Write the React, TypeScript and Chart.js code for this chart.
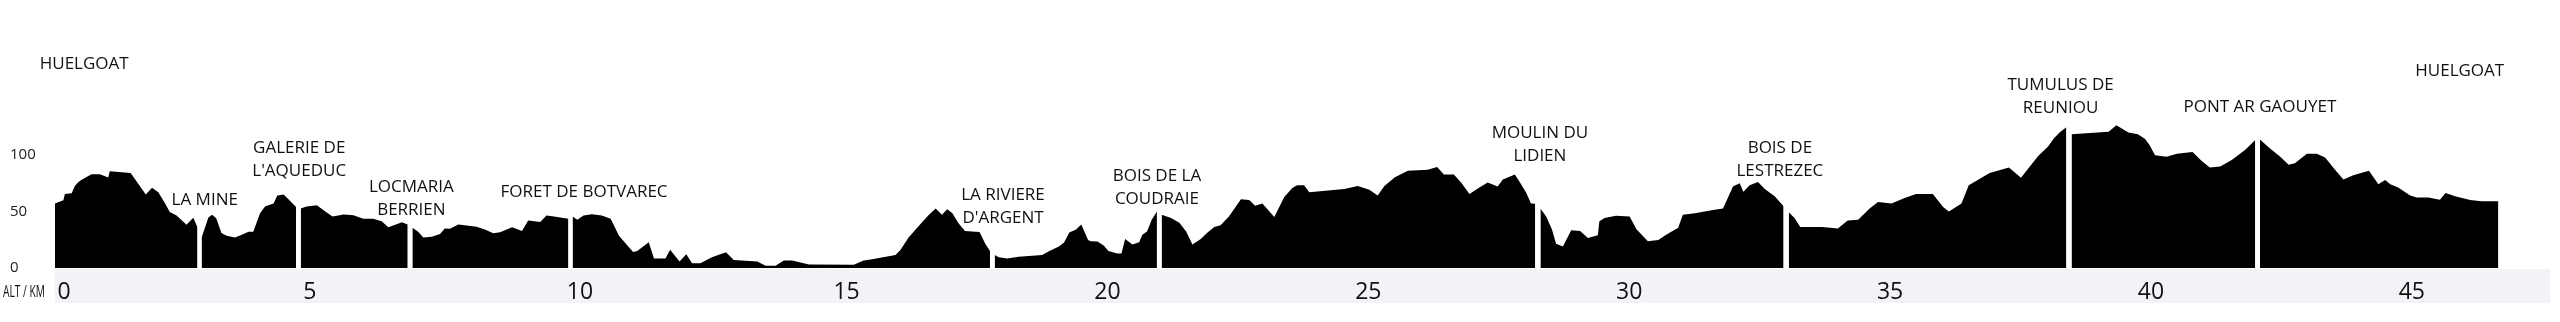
import React, { useEffect, useRef } from 'react';
import { Chart, registerables } from 'chart.js';

Chart.register(...registerables);

// Elevation profile, split at each named place: [km, altitude m]
const segHuelgoatLaMine = [
  [0, 57], [0.16, 60], [0.19, 65.5], [0.32, 66], [0.38, 72.6], [0.45, 76], [0.51, 78], [0.7, 83], [0.86, 83],
  [1.02, 80], [1.05, 85.5], [1.45, 84], [1.74, 65], [1.86, 71], [1.98, 67], [2.1, 58], [2.2, 49.5],
  [2.33, 46.5], [2.52, 38.3], [2.65, 44.5], [2.73, 36],
];
const segLaMineAqueduc = [
  [2.81, 27], [2.94, 44.7], [3.01, 47], [3.09, 44], [3.19, 31], [3.29, 28.5], [3.45, 27], [3.58, 29.3],
  [3.71, 32], [3.8, 32], [3.93, 48.4], [4.03, 54.7], [4.19, 57], [4.26, 64], [4.38, 65], [4.47, 61], [4.62, 54],
];
const segAqueducLocmaria = [
  [4.71, 52.7], [4.82, 54.4], [5.02, 55.5], [5.18, 50], [5.32, 45.6], [5.53, 47.3], [5.72, 46.7], [5.91, 43.6],
  [6.1, 43.6], [6.26, 41.3], [6.39, 36], [6.65, 40.5], [6.76, 38.5],
];
const segLocmariaBotvarec = [
  [6.85, 35.6], [6.96, 32], [7.06, 27], [7.22, 27.6], [7.38, 30], [7.47, 35], [7.57, 34.8], [7.73, 38.5],
  [7.89, 37.6], [8.08, 36.5], [8.24, 34], [8.4, 30.8], [8.53, 31.6], [8.76, 36], [8.95, 32.8], [9.07, 41.9],
  [9.3, 40.7], [9.42, 46.4], [9.53, 45.8], [9.84, 43.6],
];
const segBotvarecRiviere = [
  [9.92, 45.6], [10.01, 42.7], [10.13, 46.4], [10.29, 47.6], [10.48, 46.4], [10.65, 43.6], [10.81, 28.5],
  [10.93, 22], [11.08, 14.2], [11.16, 15.1], [11.38, 22.8], [11.48, 8.5], [11.7, 8.5], [11.79, 16.2],
  [11.97, 5.7], [12.1, 12.2], [12.21, 4.3], [12.37, 4.3], [12.59, 9.4], [12.86, 14], [13.01, 7.1],
  [13.46, 5.7], [13.62, 2], [13.81, 2], [13.97, 6.6], [14.13, 6.6], [14.35, 4.3], [14.45, 3.1], [15.31, 2.8],
  [15.5, 6.6], [15.66, 7.7], [16.11, 11.4], [16.2, 15.7], [16.36, 27], [16.55, 37], [16.75, 47], [16.88, 52.7],
  [17.0, 47], [17.1, 52], [17.2, 48.4], [17.31, 39.9], [17.44, 32.8], [17.72, 31.9], [17.83, 21.4], [17.92, 15.1],
];
const segRiviereCoudraie = [
  [18.01, 11.4], [18.09, 9.4], [18.25, 8.5], [18.47, 10], [18.92, 11.4], [19.05, 14.8], [19.24, 19],
  [19.34, 22.5], [19.44, 31.3], [19.57, 34], [19.67, 38.5], [19.8, 24.8], [19.85, 23.6], [19.98, 23.4],
  [20.1, 20], [20.19, 15.1], [20.36, 12.8], [20.44, 12.8], [20.51, 25.6], [20.65, 20.8], [20.78, 22.8],
  [20.84, 29.3], [20.93, 32.2], [21.02, 42.7], [21.12, 49.9],
];
const segCoudraieLidien = [
  [21.21, 47], [21.39, 44.2], [21.55, 39.9], [21.68, 32.2], [21.8, 20.8], [21.96, 25.6], [22.09, 31.3],
  [22.22, 36.2], [22.34, 37.9], [22.5, 45.6], [22.73, 60.7], [22.89, 60.1], [23.0, 55], [23.14, 57],
  [23.37, 45], [23.56, 62.7], [23.72, 71], [23.81, 73.2], [23.94, 73.2], [24.04, 67], [24.71, 69.8],
  [24.97, 72.6], [25.19, 69.2], [25.35, 64.1], [25.48, 72.6], [25.68, 80.3], [25.93, 86], [26.31, 86.9],
  [26.49, 89.2], [26.62, 82.6], [26.81, 82.6], [26.95, 75.5], [27.11, 65.5], [27.3, 71.2], [27.46, 75.5],
  [27.65, 72], [27.75, 78.3], [27.98, 82.6], [28.1, 74], [28.2, 66.4], [28.29, 57], [28.37, 56.7],
];
const segLidienLestrezec = [
  [28.47, 52.7], [28.58, 45.6], [28.69, 34.2], [28.77, 21.4], [28.9, 19], [29.06, 33.3], [29.23, 32.8],
  [29.38, 26.5], [29.57, 29], [29.6, 41.3], [29.7, 44.2], [29.92, 46.2], [30.18, 45.6], [30.31, 34.2],
  [30.53, 23.6], [30.73, 24.8], [30.88, 29.3], [31.11, 35.6], [31.2, 47], [31.43, 48.4], [31.78, 51.3],
  [31.97, 52.7], [32.16, 72], [32.29, 75], [32.36, 67.5], [32.48, 73.2], [32.64, 76], [32.77, 69.8],
  [32.96, 63.5], [33.13, 54.7],
];
const segLestrezecReuniou = [
  [33.23, 49.3], [33.34, 44.2], [33.45, 36.2], [33.87, 36.2], [34.17, 35], [34.36, 41.9], [34.56, 42.7],
  [34.78, 52.7], [34.94, 58.4], [35.2, 57], [35.45, 61.8], [35.67, 65.5], [35.99, 65.5], [36.19, 54],
  [36.3, 49.9], [36.54, 57], [36.68, 73.2], [37.08, 84], [37.45, 88.9], [37.68, 79.8], [38.01, 99.1],
  [38.2, 107.4], [38.31, 114.5], [38.42, 119.7], [38.55, 124.5],
];
const segReuniouGaouyet = [
  [38.65, 118.2], [39.36, 120.5], [39.51, 126.2], [39.74, 119.7], [39.92, 118.2], [40.06, 114], [40.15, 108.3],
  [40.25, 99.7], [40.47, 98.3], [40.67, 101], [40.97, 102.6], [41.14, 94.9], [41.3, 88.9], [41.5, 89.7],
  [41.72, 95.4], [41.98, 104.6], [42.17, 113.1],
];
const segGaouyetHuelgoat = [
  [42.26, 113.7], [42.46, 105.4], [42.65, 98.3], [42.81, 91.2], [42.93, 92.6], [43.16, 101.1], [43.35, 101.1],
  [43.51, 97.7], [43.7, 86.9], [43.86, 78.3], [44.05, 82], [44.35, 86], [44.53, 74], [44.66, 77.8], [44.76, 74],
  [44.91, 71.2], [45.14, 64.1], [45.27, 62.4], [45.49, 62.4], [45.71, 60.4], [45.82, 66.4], [46.0, 63.5],
  [46.29, 60.1], [46.51, 59], [46.83, 59],
];

const segments = [
  segHuelgoatLaMine, segLaMineAqueduc, segAqueducLocmaria, segLocmariaBotvarec, segBotvarecRiviere,
  segRiviereCoudraie, segCoudraieLidien, segLidienLestrezec, segLestrezecReuniou, segReuniouGaouyet,
  segGaouyetHuelgoat,
];

// Place names with their anchor (km, altitude of first text line)
const placeNames = [
  'HUELGOAT', 'LA MINE', "GALERIE DE\nL'AQUEDUC", 'LOCMARIA\nBERRIEN', 'FORET DE BOTVAREC',
  "LA RIVIERE\nD'ARGENT", 'BOIS DE LA\nCOUDRAIE', 'MOULIN DU\nLIDIEN', 'BOIS DE\nLESTREZEC',
  'TUMULUS DE\nREUNIOU', 'PONT AR GAOUYET', 'HUELGOAT',
];
const placeKm = [0.56, 2.87, 4.68, 6.83, 10.14, 18.17, 21.12, 28.46, 33.06, 38.44, 42.26, 46.09];
const placeAlt = [180.3, 59.8, 106, 71.8, 66.7, 64.1, 81.2, 118.8, 106, 161.5, 141.9, 174.4];

// Distance tick labels and where they sit on the km scale (as drawn in the original)
const xTickLabels = ['0', '5', '10', '15', '20', '25', '30', '35', '40', '45'];
const xTickKm = [0, 4.71, 9.89, 15, 20, 25, 30, 35, 40, 45];
const yTicks = [0, 50, 100];
const axisTitle = 'ALT / KM';

const X_MAX = 47.82;
const Y_MAX = 229;

const FONT = '"Open Sans", "Liberation Sans", sans-serif';

const bandPlugin = {
  id: 'axisBand',
  beforeDraw(chart: any) {
    const { ctx, chartArea } = chart;
    ctx.save();
    ctx.fillStyle = '#f2f2f7';
    ctx.fillRect(chartArea.left, chartArea.bottom + 1, chartArea.right - chartArea.left, 34);
    ctx.restore();
  },
  afterDraw(chart: any) {
    const { ctx, chartArea } = chart;
    ctx.save();
    ctx.font = `16px ${FONT}`;
    ctx.fillStyle = '#111';
    ctx.textAlign = 'left';
    ctx.textBaseline = 'middle';
    ctx.fillText(axisTitle, 3, chartArea.bottom + 24, 42);
    ctx.restore();
  },
};

const placesPlugin = {
  id: 'places',
  afterDatasetsDraw(chart: any) {
    const { ctx } = chart;
    const x = chart.scales.x;
    const y = chart.scales.y;
    ctx.save();
    ctx.font = `17px ${FONT}`;
    ctx.fillStyle = '#111';
    ctx.textAlign = 'center';
    ctx.textBaseline = 'middle';
    placeNames.forEach((name, i) => {
      const px = x.getPixelForValue(placeKm[i]);
      const py = y.getPixelForValue(placeAlt[i]);
      name.split('\n').forEach((line, j) => ctx.fillText(line, px, py + j * 23));
    });
    ctx.restore();
  },
};

export default function App() {
  const ref = useRef<HTMLCanvasElement | null>(null);

  useEffect(() => {
    let chart: Chart | null = null;
    let cancelled = false;
    const make = () => {
      if (cancelled || !ref.current) return;
      chart = new Chart(ref.current, {
        type: 'line',
        data: {
          datasets: segments.map((seg) => ({
            data: seg.map(([x, y]) => ({ x, y })),
            fill: 'origin',
            backgroundColor: '#000',
            borderColor: 'rgba(0,0,0,0)',
            borderWidth: 0,
            pointRadius: 0,
            tension: 0,
          })),
        },
        options: {
          animation: false,
          responsive: false,
          layout: { padding: { left: 10, right: 10, top: 0, bottom: 0 } },
          plugins: { legend: { display: false }, tooltip: { enabled: false } },
          scales: {
            x: {
              type: 'linear',
              min: 0,
              max: X_MAX,
              grid: { display: false, drawTicks: false },
              border: { display: false },
              afterBuildTicks: (s: any) => { s.ticks = xTickKm.map((v) => ({ value: v })); },
              afterFit: (s: any) => { s.height = 54; },
              ticks: {
                font: { family: FONT, size: 23 },
                color: '#111',
                padding: 11,
                labelOffset: 9,
                maxRotation: 0,
                autoSkip: false,
                callback: (_v: any, i: number) => xTickLabels[i],
              },
            },
            y: {
              type: 'linear',
              min: 0,
              max: Y_MAX,
              grid: { display: false, drawTicks: false },
              border: { display: false },
              afterBuildTicks: (s: any) => { s.ticks = yTicks.map((v) => ({ value: v })); },
              afterFit: (s: any) => { s.width = 45; },
              ticks: {
                font: { family: FONT, size: 15 },
                color: '#222',
                crossAlign: 'far',
                padding: 0,
              },
            },
          },
        },
        plugins: [bandPlugin, placesPlugin],
      } as any);
    };
    const fonts: any = (document as any).fonts;
    if (fonts && fonts.load) {
      Promise.all([fonts.load(`17px ${FONT}`), fonts.load(`23px ${FONT}`)]).then(make, make);
    } else {
      make();
    }
    return () => {
      cancelled = true;
      if (chart) chart.destroy();
    };
  }, []);

  return (
    <div style={{ position: 'absolute', left: 0, top: 0, width: 2560, height: 322, background: '#fff' }}>
      <canvas ref={ref} width={2560} height={322} style={{ display: 'block', width: 2560, height: 322 }} />
    </div>
  );
}
